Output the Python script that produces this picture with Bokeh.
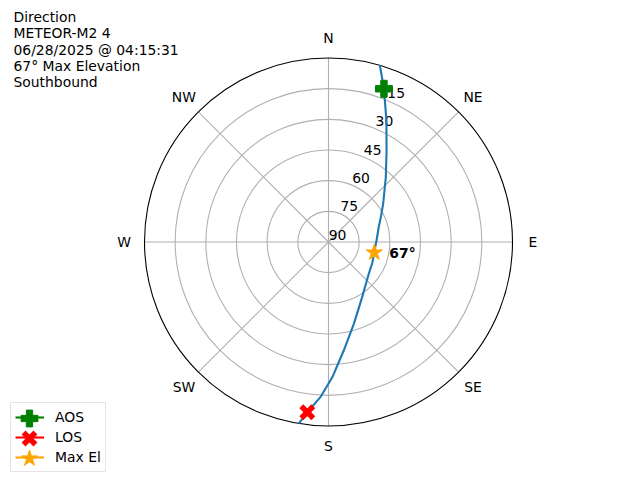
import numpy as np
from bokeh.plotting import figure
from bokeh.models import Range1d, Label, Legend, LegendItem
from bokeh.core.properties import value
from bokeh.embed import file_html
from bokeh.resources import INLINE

# ---- data ----
title_lines = ["Direction", "METEOR-M2 4", "06/28/2025 @ 04:15:31", "67° Max Elevation", "Southbound"]
track_az = [16.2, 19.9, 25.5, 32.4, 41.5, 55.1, 65.0, 73.6, 88.2, 101.0, 115.0, 128.3, 148.6, 162.8, 172.0, 178.4, 183.0, 187.1, 189.3]
track_el = [0.0, 10.3, 24.2, 37.0, 47.7, 57.4, 61.8, 64.4, 66.5, 67.1, 66.3, 64.9, 58.4, 48.1, 36.4, 23.8, 14.0, 6.1, 0.0]
aos_az, aos_el = [19.9], [10.3]
los_az, los_el = [187.1], [6.1]
max_az, max_el = [103.0], [67.0]
max_label = ["67°"]
legend_labels = ["AOS", "LOS", "Max El"]
ring_el = [90, 75, 60, 45, 30, 15]
dir_labels = ["N", "NE", "E", "SE", "S", "SW", "W", "NW"]
dir_az = [0, 45, 90, 135, 180, 225, 270, 315]
horizon_el = 0
rlabel_az = 22.5

FONT_NAME = "DejaVu Sans"
FONT = value(FONT_NAME)
FS = "13.9px"
W, H = 640, 480


def to_xy(az, el):
    az = np.radians(np.asarray(az, dtype=float))
    r = 90.0 - np.asarray(el, dtype=float)
    return r * np.sin(az), r * np.cos(az)


S = 184.0 / 90.0  # px per degree
CX, CY = 328.0, 241.5
p = figure(width=W, height=H, output_backend="svg", toolbar_location=None,
           x_range=Range1d(-CX / S, (W - CX) / S), y_range=Range1d(-(H - CY) / S, CY / S),
           min_border=0, outline_line_color=None)
p.axis.visible = False
p.grid.visible = False
p.background_fill_color = "white"

# grid rings
ring_r = [90 - e for e in ring_el if e != 90]
p.circle(x=[0] * len(ring_r), y=[0] * len(ring_r), radius=ring_r,
         fill_color=None, line_color="#b0b0b0", line_width=1.1)
# spokes
sx, sy = to_xy(dir_az, [horizon_el] * len(dir_az))
p.segment(x0=[0] * len(dir_az), y0=[0] * len(dir_az), x1=sx, y1=sy,
          line_color="#b0b0b0", line_width=1.1)
# outer circle (horizon)
p.circle(x=[0], y=[0], radius=[90 - horizon_el], fill_color=None,
         line_color="black", line_width=1.1)

# radial tick labels
lx, ly = to_xy([rlabel_az] * len(ring_el), ring_el)
p.text(x=lx, y=ly, text=[str(e) for e in ring_el], text_font=FONT, text_font_size=FS,
       text_align="center", text_baseline="middle", x_offset=9, y_offset=-7.5, text_color="black")

# direction labels
dx, dy = to_xy(dir_az, [-10] * len(dir_az))
p.text(x=dx, y=dy, text=dir_labels, text_font=FONT, text_font_size=FS,
       text_align="center", text_baseline="middle", text_color="black")

# track
tx, ty = to_xy(track_az, track_el)
p.line(tx, ty, line_color="#1f77b4", line_width=2.1)

# markers
ax_, ay_ = to_xy(aos_az, aos_el)
bx_, by_ = to_xy(los_az, los_el)
mx_, my_ = to_xy(max_az, max_el)

aos_l = p.line(ax_, ay_, line_color="green", line_width=2.1)
aos_s = p.scatter(ax_, ay_, marker="plus", size=17, fill_color="green", line_color="green")
los_l = p.line(bx_, by_, line_color="red", line_width=2.1)
los_s = p.scatter(bx_, by_, marker="x", size=17, line_color="red", line_width=5.5)
max_l = p.line(mx_, my_, line_color="orange", line_width=2.1)
max_s = p.scatter(mx_, my_, marker="star", size=17, fill_color="orange", line_color="orange")

p.text(x=mx_, y=my_, text=max_label, text_font=FONT, text_font_size=FS, text_font_style="bold",
       text_align="left", text_baseline="middle", x_offset=15, text_color="black")

# title block
base_top = [16.7, 32.9, 49.1, 65.3, 81.5]
for line, yb in zip(title_lines, base_top):
    p.add_layout(Label(x=13, y=H - yb, x_units="screen", y_units="screen", text=line,
                       text_font=FONT_NAME, text_font_size=FS, text_baseline="alphabetic",
                       text_align="left", text_color="black"))

# legend: box with lines and labels
legend = Legend(items=[LegendItem(label=lab, renderers=[r])
                       for lab, r in zip(legend_labels, [aos_l, los_l, max_l])],
                location=(10, 8), margin=0, padding=4, spacing=0,
                glyph_width=29, glyph_height=20, label_height=20, label_standoff=11,
                label_text_font=FONT_NAME, label_text_font_size=FS, label_text_color="black",
                border_line_color="#cccccc", border_line_width=1,
                background_fill_color="white", background_fill_alpha=0.8)
p.add_layout(legend)

# legend markers (larger) overlaid on the line handles
centers_y = [418, 438, 458]
for r, cy, g in zip([aos_s, los_s, max_s], centers_y, [42, 42, 42]):
    lg = Legend(items=[LegendItem(label=" ", renderers=[r])],
                location=(28.5 - g / 2, H - cy - g / 2), margin=0, padding=0, spacing=0,
                glyph_width=g, glyph_height=g, label_height=g, label_standoff=0,
                label_text_font_size="1px", border_line_color=None,
                background_fill_alpha=0)
    p.add_layout(lg)

open("out.html", "w").write(file_html(p, INLINE))
